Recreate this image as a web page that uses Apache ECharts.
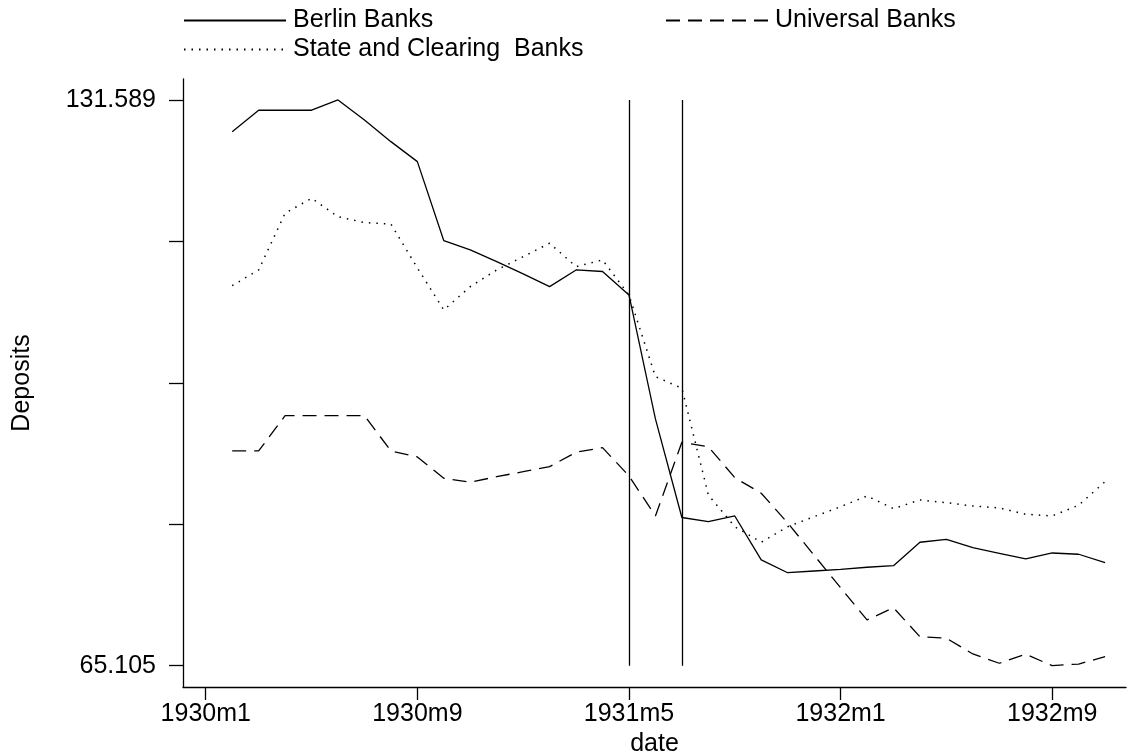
<!DOCTYPE html>
<html>
<head>
<meta charset="utf-8">
<script src="https://cdn.jsdelivr.net/npm/echarts@6/dist/echarts.min.js"></script>
<style>
html,body{margin:0;padding:0;background:#fff;}
#chart{width:1128px;height:756px;}
</style>
</head>
<body>
<div id="chart"></div>
<script>
// ---- data ----
const dates = ['1930m2','1930m3','1930m4','1930m5','1930m6','1930m7','1930m8','1930m9','1930m10','1930m11','1930m12',
  '1931m1','1931m2','1931m3','1931m4','1931m5','1931m6','1931m7','1931m8','1931m9','1931m10','1931m11','1931m12',
  '1932m1','1932m2','1932m3','1932m4','1932m5','1932m6','1932m7','1932m8','1932m9','1932m10','1932m11'];
const berlinBanks = [127.86,130.38,130.38,130.38,131.589,129.24,126.69,124.34,115.05,113.96,112.58,
  111.14,109.65,111.61,111.43,108.67,94.10,82.52,82.03,82.70,77.53,76.03,76.23,
  76.43,76.67,76.86,79.61,79.96,78.97,78.31,77.65,78.35,78.20,77.21];
const universalBanks = [90.34,90.34,94.49,94.49,94.49,94.49,90.34,89.63,87.13,86.66,87.32,
  87.90,88.49,90.19,90.73,87.40,82.70,91.36,90.84,87.20,85.37,81.88,78.08,
  74.27,70.48,71.92,68.51,68.33,66.48,65.39,66.45,65.105,65.30,66.16];
const stateClearingBanks = [109.77,111.61,118.27,120.04,117.87,117.17,117.01,111.85,106.91,109.65,111.61,
  113.17,114.75,112.00,112.79,108.67,99.07,97.71,85.17,81.44,79.61,81.44,82.62,
  83.79,85.05,83.56,84.58,84.26,83.87,83.64,82.90,82.70,83.96,86.73];
const xTickLabels = ['1930m1','1930m9','1931m5','1932m1','1932m9'];
const yTickValues = [65.105, 81.726, 98.347, 114.968, 131.589];
const yLabelValues = [65.105, 131.589];
const eventDates = ['1931m5','1931m7'];
const seriesNames = ['Berlin Banks','Universal Banks','State and Clearing  Banks'];

// ---- helpers ----
function toNum(d){ const p = d.split('m'); return (parseInt(p[0],10)-1930)*12 + (parseInt(p[1],10)-1); }
function toLabel(n){ n = Math.round(n); return (1930 + Math.floor(n/12)) + 'm' + ((n%12)+1); }
const xs = dates.map(toNum);
const pts = arr => arr.map((v,i)=>[xs[i], v]);

const FONT = '"Liberation Sans", Arial, Helvetica, sans-serif';
const FS = 25;
const INK = '#000';

const chart = echarts.init(document.getElementById('chart'), null, {renderer:'canvas'});
function legendAt(name, left, top){
  return {
    data:[name], left:left, top:top,
    orient:'horizontal', itemWidth:102, itemHeight:24, padding:0, itemGap:0,
    textStyle:{fontFamily:FONT, fontSize:FS, color:INK, padding:[0,0,0,2]},
    itemStyle:{opacity:0}
  };
}
chart.setOption({
  animation:false,
  backgroundColor:'#fff',
  textStyle:{fontFamily:FONT},
  grid:{left:183, right:2, top:79, bottom:69, containLabel:false, outerBoundsMode:'none'},
  legend:[
    legendAt(seriesNames[0], 183, 8),
    legendAt(seriesNames[1], 665, 8),
    legendAt(seriesNames[2], 183, 37)
  ],
  xAxis:{
    type:'value', min:-0.86, max:34.79,
    name:'date', nameLocation:'middle', nameGap:36,
    nameTextStyle:{fontFamily:FONT, fontSize:FS, color:INK},
    axisLine:{show:true, onZero:false, lineStyle:{color:INK, width:1.3}},
    axisTick:{show:true, length:13, lineStyle:{color:INK, width:1.3}, customValues:xTickLabels.map(toNum)},
    axisLabel:{show:true, margin:15, fontFamily:FONT, fontSize:FS, color:INK,
      customValues:xTickLabels.map(toNum), formatter:v=>toLabel(v)},
    splitLine:{show:false}
  },
  yAxis:{
    type:'value', min:62.6, max:134.05,
    name:'Deposits', nameLocation:'middle', nameGap:148, nameRotate:90,
    nameTextStyle:{fontFamily:FONT, fontSize:FS, color:INK},
    axisLine:{show:true, onZero:false, lineStyle:{color:INK, width:1.3}},
    axisTick:{show:true, length:14, lineStyle:{color:INK, width:1.3}, customValues:yTickValues},
    axisLabel:{show:true, margin:27, fontFamily:FONT, fontSize:FS, color:INK,
      customValues:yLabelValues, formatter:v=>v.toFixed(3)},
    splitLine:{show:false}
  },
  series:[
    {name:seriesNames[0], type:'line', data:pts(berlinBanks), symbol:'none',
      lineStyle:{color:INK, width:1.3, type:'solid'}, itemStyle:{color:INK},
      markLine:{silent:true, symbol:'none', label:{show:false},
        lineStyle:{color:INK, width:1.3, type:'solid'},
        data: eventDates.map(d=>[{coord:[toNum(d), yTickValues[0]]},{coord:[toNum(d), yTickValues[yTickValues.length-1]]}])}},
    {name:seriesNames[1], type:'line', data:pts(universalBanks), symbol:'none',
      lineStyle:{color:INK, width:1.3, type:[14,8]}, itemStyle:{color:INK}},
    {name:seriesNames[2], type:'line', data:pts(stateClearingBanks), symbol:'none',
      lineStyle:{color:INK, width:1.5, type:[1.5,6]}, itemStyle:{color:INK}}
  ]
});
</script>
</body>
</html>
